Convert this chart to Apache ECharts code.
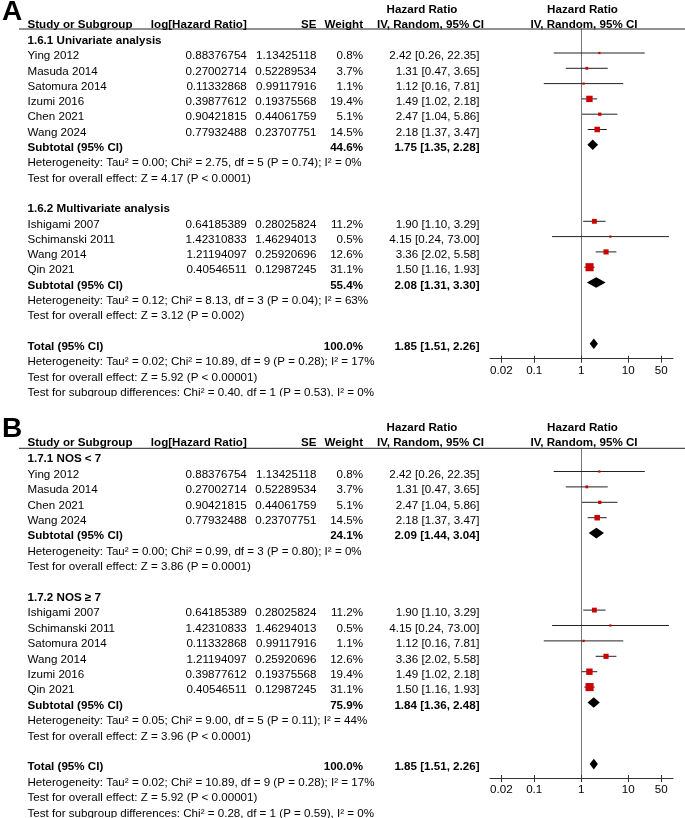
<!DOCTYPE html>
<html>
<head>
<meta charset="utf-8">
<script src="https://cdn.jsdelivr.net/npm/echarts@6/dist/echarts.min.js"></script>
<style>
html,body{margin:0;padding:0;background:#fff;}
#c{width:685px;height:818px;}
</style>
</head>
<body>
<div id="c"></div>
<script>
// ---------------- DATA ----------------
// Panel A
const A_g1Title = "1.6.1 Univariate analysis";
const A_g1Names = ["Ying 2012","Masuda 2014","Satomura 2014","Izumi 2016","Chen 2021","Wang 2024"];
const A_g1LogHR = ["0.88376754","0.27002714","0.11332868","0.39877612","0.90421815","0.77932488"];
const A_g1SE    = ["1.13425118","0.52289534","0.99117916","0.19375568","0.44061759","0.23707751"];
const A_g1W     = [0.8,3.7,1.1,19.4,5.1,14.5];
const A_g1HR    = [2.42,1.31,1.12,1.49,2.47,2.18];
const A_g1Lo    = [0.26,0.47,0.16,1.02,1.04,1.37];
const A_g1Hi    = [22.35,3.65,7.81,2.18,5.86,3.47];
const A_g1Sub   = {w:44.6, hr:1.75, lo:1.35, hi:2.28};
const A_g1Het   = "Heterogeneity: Tau² = 0.00; Chi² = 2.75, df = 5 (P = 0.74); I² = 0%";
const A_g1Test  = "Test for overall effect: Z = 4.17 (P < 0.0001)";

const A_g2Title = "1.6.2 Multivariate analysis";
const A_g2Names = ["Ishigami 2007","Schimanski 2011","Wang 2014","Qin 2021"];
const A_g2LogHR = ["0.64185389","1.42310833","1.21194097","0.40546511"];
const A_g2SE    = ["0.28025824","1.46294013","0.25920696","0.12987245"];
const A_g2W     = [11.2,0.5,12.6,31.1];
const A_g2HR    = [1.90,4.15,3.36,1.50];
const A_g2Lo    = [1.10,0.24,2.02,1.16];
const A_g2Hi    = [3.29,73.00,5.58,1.93];
const A_g2Sub   = {w:55.4, hr:2.08, lo:1.31, hi:3.30};
const A_g2Het   = "Heterogeneity: Tau² = 0.12; Chi² = 8.13, df = 3 (P = 0.04); I² = 63%";
const A_g2Test  = "Test for overall effect: Z = 3.12 (P = 0.002)";
const A_subDiff = "Test for subgroup differences: Chi² = 0.40, df = 1 (P = 0.53), I² = 0%";

// Panel B
const B_g1Title = "1.7.1 NOS < 7";
const B_g1Names = ["Ying 2012","Masuda 2014","Chen 2021","Wang 2024"];
const B_g1LogHR = ["0.88376754","0.27002714","0.90421815","0.77932488"];
const B_g1SE    = ["1.13425118","0.52289534","0.44061759","0.23707751"];
const B_g1W     = [0.8,3.7,5.1,14.5];
const B_g1HR    = [2.42,1.31,2.47,2.18];
const B_g1Lo    = [0.26,0.47,1.04,1.37];
const B_g1Hi    = [22.35,3.65,5.86,3.47];
const B_g1Sub   = {w:24.1, hr:2.09, lo:1.44, hi:3.04};
const B_g1Het   = "Heterogeneity: Tau² = 0.00; Chi² = 0.99, df = 3 (P = 0.80); I² = 0%";
const B_g1Test  = "Test for overall effect: Z = 3.86 (P = 0.0001)";

const B_g2Title = "1.7.2 NOS ≥ 7";
const B_g2Names = ["Ishigami 2007","Schimanski 2011","Satomura 2014","Wang 2014","Izumi 2016","Qin 2021"];
const B_g2LogHR = ["0.64185389","1.42310833","0.11332868","1.21194097","0.39877612","0.40546511"];
const B_g2SE    = ["0.28025824","1.46294013","0.99117916","0.25920696","0.19375568","0.12987245"];
const B_g2W     = [11.2,0.5,1.1,12.6,19.4,31.1];
const B_g2HR    = [1.90,4.15,1.12,3.36,1.49,1.50];
const B_g2Lo    = [1.10,0.24,0.16,2.02,1.02,1.16];
const B_g2Hi    = [3.29,73.00,7.81,5.58,2.18,1.93];
const B_g2Sub   = {w:75.9, hr:1.84, lo:1.36, hi:2.48};
const B_g2Het   = "Heterogeneity: Tau² = 0.05; Chi² = 9.00, df = 5 (P = 0.11); I² = 44%";
const B_g2Test  = "Test for overall effect: Z = 3.96 (P < 0.0001)";
const B_subDiff = "Test for subgroup differences: Chi² = 0.28, df = 1 (P = 0.59), I² = 0%";

// Shared totals
const totalRes  = {w:100.0, hr:1.85, lo:1.51, hi:2.26};
const totalHet  = "Heterogeneity: Tau² = 0.02; Chi² = 10.89, df = 9 (P = 0.28); I² = 17%";
const totalTest = "Test for overall effect: Z = 5.92 (P < 0.00001)";

// Axis ticks
const tickValues = [0.02, 0.1, 1, 10, 50];
const tickLabels = ["0.02", "0.1", "1", "10", "50"];
const axisMinHR = 0.0115, axisMaxHR = 89;

// ---------------- LAYOUT ----------------
const FONT = '"Liberation Sans", Arial, Helvetica, sans-serif';
const FS = 11.6;
const COL = {name:27.5, logHR:246.8, se:316.5, w:363, ci:479.5, hrHead:422, ivHead:430.5, plotHead1:582.5, plotHead2:584};
const panels = [
  {letter:'A', letterTop:-1.5, y0:56, step:15.3, hdrY:29, axisY:358.7,
   groups:[
     {title:A_g1Title,names:A_g1Names,logHR:A_g1LogHR,se:A_g1SE,w:A_g1W,hr:A_g1HR,lo:A_g1Lo,hi:A_g1Hi,sub:A_g1Sub,het:A_g1Het,test:A_g1Test},
     {title:A_g2Title,names:A_g2Names,logHR:A_g2LogHR,se:A_g2SE,w:A_g2W,hr:A_g2HR,lo:A_g2Lo,hi:A_g2Hi,sub:A_g2Sub,het:A_g2Het,test:A_g2Test}
   ], subDiff:A_subDiff},
  {letter:'B', letterTop:415, y0:474.5, step:15.4, hdrY:448.3, axisY:778,
   groups:[
     {title:B_g1Title,names:B_g1Names,logHR:B_g1LogHR,se:B_g1SE,w:B_g1W,hr:B_g1HR,lo:B_g1Lo,hi:B_g1Hi,sub:B_g1Sub,het:B_g1Het,test:B_g1Test},
     {title:B_g2Title,names:B_g2Names,logHR:B_g2LogHR,se:B_g2SE,w:B_g2W,hr:B_g2HR,lo:B_g2Lo,hi:B_g2Hi,sub:B_g2Sub,het:B_g2Het,test:B_g2Test}
   ], subDiff:B_subDiff}
];
const PLOT_LEFT = 490, PLOT_WIDTH = 183, MARK_SHIFT = 3, CANVAS_H = 818;

const f2 = v => v.toFixed(2);
const ciText = (hr, lo, hi) => `${f2(hr)} [${f2(lo)}, ${f2(hi)}]`;
const lg = Math.log10;

const grids = [], xAxes = [], yAxes = [], series = [], graphics = [];

panels.forEach((P) => {
  const texts = [], studies = [], diamonds = [];
  const T = (x, k, t, a, b) => texts.push({x, k, t, a: a || 'left', b: !!b});
  // headers
  T(COL.hrHead, -3.05, 'Hazard Ratio', 'center', true);
  T(COL.plotHead1, -3.05, 'Hazard Ratio', 'center', true);
  T(COL.name, -2.05, 'Study or Subgroup', 'left', true);
  T(COL.logHR, -2.05, 'log[Hazard Ratio]', 'right', true);
  T(COL.se, -2.05, 'SE', 'right', true);
  T(COL.w, -2.05, 'Weight', 'right', true);
  T(COL.ivHead, -2.05, 'IV, Random, 95% CI', 'center', true);
  T(COL.plotHead2, -2.05, 'IV, Random, 95% CI', 'center', true);
  let k = -1;
  P.groups.forEach(g => {
    T(COL.name, k, g.title, 'left', true); k++;
    g.names.forEach((n, i) => {
      T(COL.name, k, n);
      T(COL.logHR, k, g.logHR[i], 'right');
      T(COL.se, k, g.se[i], 'right');
      T(COL.w, k, g.w[i].toFixed(1) + '%', 'right');
      T(COL.ci, k, ciText(g.hr[i], g.lo[i], g.hi[i]), 'right');
      studies.push([lg(g.hr[i]), k, lg(g.lo[i]), lg(g.hi[i]), g.w[i]]);
      k++;
    });
    T(COL.name, k, 'Subtotal (95% CI)', 'left', true);
    T(COL.w, k, g.sub.w.toFixed(1) + '%', 'right', true);
    T(COL.ci, k, ciText(g.sub.hr, g.sub.lo, g.sub.hi), 'right', true);
    diamonds.push([lg(g.sub.hr), k, lg(g.sub.lo), lg(g.sub.hi)]);
    k++;
    T(COL.name, k, g.het); k++;
    T(COL.name, k, g.test); k++;
    k++;
  });
  T(COL.name, k, 'Total (95% CI)', 'left', true);
  T(COL.w, k, totalRes.w.toFixed(1) + '%', 'right', true);
  T(COL.ci, k, ciText(totalRes.hr, totalRes.lo, totalRes.hi), 'right', true);
  diamonds.push([lg(totalRes.hr), k, lg(totalRes.lo), lg(totalRes.hi)]);
  k++;
  T(COL.name, k, totalHet); k++;
  T(COL.name, k, totalTest); k++;
  T(COL.name, k, P.subDiff); k++;

  // table grid (rows -> pixels), kept inside the canvas
  const yMin = -3.3;
  const yMax = Math.min(23, (CANVAS_H - 0.5 - P.y0) / P.step);
  const gT = grids.length;
  grids.push({left:0, top:P.y0 + P.step * yMin, width:685, height:P.step * (yMax - yMin)});
  const xT = xAxes.length;
  xAxes.push({type:'value', gridIndex:gT, min:0, max:685, show:false});
  const yT = yAxes.length;
  yAxes.push({type:'value', gridIndex:gT, min:yMin, max:yMax, inverse:true, show:false});

  // plot grid
  const gP = grids.length;
  const mark0 = P.y0 - MARK_SHIFT;
  grids.push({left:PLOT_LEFT, top:P.hdrY, width:PLOT_WIDTH, height:P.axisY - P.hdrY});
  const xMain = xAxes.length;
  xAxes.push({type:'value', gridIndex:gP, min:lg(axisMinHR), max:lg(axisMaxHR), position:'bottom',
    axisLine:{show:true, onZero:false, lineStyle:{color:'#333', width:1}},
    axisTick:{show:true, length:4, customValues:tickValues.map(lg), lineStyle:{color:'#333'}},
    axisLabel:{show:true, margin:6, customValues:tickValues.map(lg), color:'#000', fontFamily:FONT, fontSize:FS,
      formatter: v => { const i = tickValues.findIndex(t => Math.abs(lg(t) - v) < 1e-6); return i >= 0 ? tickLabels[i] : ''; }},
    splitLine:{show:false}});
  xAxes.push({type:'value', gridIndex:gP, min:lg(axisMinHR), max:lg(axisMaxHR), position:'bottom',
    axisLine:{show:false, onZero:false},
    axisTick:{show:true, inside:true, length:3, customValues:tickValues.map(lg), lineStyle:{color:'#333'}},
    axisLabel:{show:false}, splitLine:{show:false}});
  const yP = yAxes.length;
  yAxes.push({type:'value', gridIndex:gP, inverse:true,
    min:(P.hdrY - mark0) / P.step, max:(P.axisY - mark0) / P.step,
    axisLine:{show:true, onZero:true, lineStyle:{color:'#777', width:1}},
    axisTick:{show:false}, axisLabel:{show:false}, splitLine:{show:false}});

  // table text
  series.push({
    type:'custom', xAxisIndex:xT, yAxisIndex:yT, silent:true, clip:false, z:5,
    data: texts.map(t => [t.x, t.k]),
    renderItem: (params, api) => {
      const t = texts[params.dataIndex];
      const p = api.coord([t.x, t.k]);
      return {type:'text', x:p[0], y:p[1], style:{text:t.t, fill:'#000',
        font:(t.b ? 'bold ' : '') + FS + 'px ' + FONT, align:t.a, verticalAlign:'middle'}};
    }
  });
  // studies: CI line + square
  series.push({
    type:'custom', xAxisIndex:xMain, yAxisIndex:yP, silent:true, clip:false, z:6,
    data: studies,
    renderItem: (params, api) => {
      const c = api.coord([api.value(0), api.value(1)]);
      const l = api.coord([api.value(2), api.value(1)]);
      const h = api.coord([api.value(3), api.value(1)]);
      const s = Math.max(2.2, 1.45 * Math.sqrt(api.value(4)));
      return {type:'group', children:[
        {type:'line', shape:{x1:l[0], y1:c[1], x2:h[0], y2:c[1]}, style:{stroke:'#222', lineWidth:1}},
        {type:'rect', shape:{x:c[0] - s/2, y:c[1] - s/2, width:s, height:s}, style:{fill:'#cc0000'}}
      ]};
    }
  });
  // diamonds
  series.push({
    type:'custom', xAxisIndex:xMain, yAxisIndex:yP, silent:true, clip:false, z:6,
    data: diamonds,
    renderItem: (params, api) => {
      const c = api.coord([api.value(0), api.value(1)]);
      const l = api.coord([api.value(2), api.value(1)]);
      const h = api.coord([api.value(3), api.value(1)]);
      const hh = 5.3;
      return {type:'polygon', shape:{points:[[l[0], c[1]], [c[0], c[1] - hh], [h[0], c[1]], [c[0], c[1] + hh]]},
        style:{fill:'#000'}};
    }
  });
  // header rule and panel letter
  graphics.push({type:'line', shape:{x1:19, y1:P.hdrY, x2:685, y2:P.hdrY}, style:{stroke:'#222', lineWidth:1}, z:10});
  graphics.push({type:'text', x:2, y:P.letterTop, style:{text:P.letter, font:'bold 28px ' + FONT, fill:'#000', verticalAlign:'top'}, z:10});
});
// crop of the last line of panel A, as in the reference
graphics.push({type:'rect', shape:{x:0, y:396.5, width:685, height:15}, style:{fill:'#fff'}, z:100});

const chart = echarts.init(document.getElementById('c'), null, {renderer:'canvas'});
chart.setOption({
  backgroundColor:'#fff', animation:false,
  grid:grids, xAxis:xAxes, yAxis:yAxes, series:series, graphic:{elements:graphics}
});
</script>
</body>
</html>
